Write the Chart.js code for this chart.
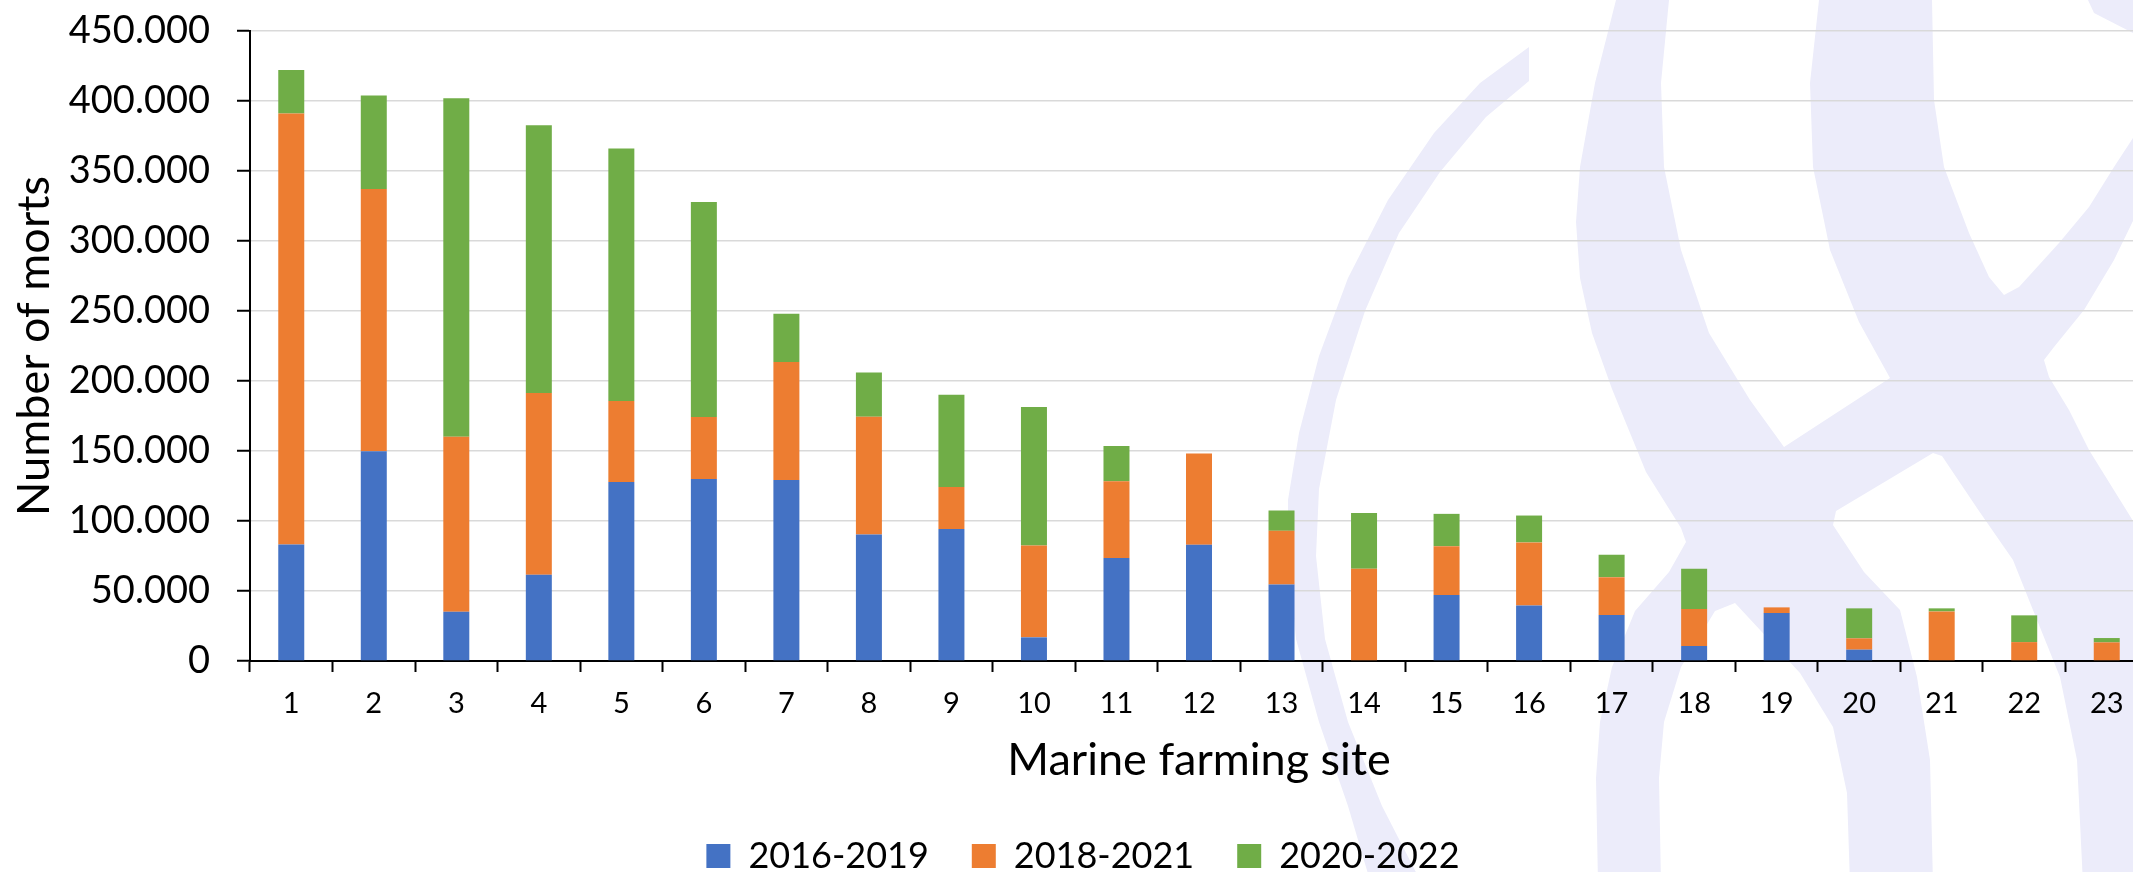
<!DOCTYPE html>
<html>
<head>
<meta charset="utf-8">
<title>Number of morts per marine farming site</title>
<script src="https://cdn.jsdelivr.net/npm/chart.js@4.4.1/dist/chart.umd.min.js"></script>
<style>
  html, body { margin: 0; padding: 0; overflow: hidden; background: #ffffff; }
  canvas { display: block; }
</style>
</head>
<body>
<canvas id="morts" width="2148" height="884"></canvas>
<script>
// Marine farming sites (x categories)
const sites = ['1','2','3','4','5','6','7','8','9','10','11','12','13','14','15','16','17','18','19','20','21','22','23'];

// Number of morts per period, stacked per site
const morts2016_2019 = [83200, 149800, 35200, 61600, 127900, 130000, 129300, 90400, 94200, 16900, 73500, 83000, 54700, 0, 47100, 39700, 32800, 10700, 34200, 8100, 0, 0, 0];
const morts2018_2021 = [307900, 187300, 125000, 129800, 57800, 44300, 84200, 84100, 30100, 65600, 54900, 65300, 38300, 65900, 34900, 45000, 27100, 26400, 4100, 8100, 35400, 13500, 13300];
const morts2020_2022 = [31100, 66800, 241800, 191300, 180400, 153500, 34500, 31600, 65900, 98900, 25200, 0, 14500, 39900, 23100, 19200, 16000, 28800, 0, 21400, 2200, 19100, 3100];

const periodLabels = ['2016-2019', '2018-2021', '2020-2022'];
const periodColors = ['#4472C4', '#ED7D31', '#70AD47'];

// Y axis range and tick spacing
const yMax = 450000;
const yStep = 50000;

// thousands separated with a dot: 450000 -> "450.000"
function formatThousands(v) {
  return String(Math.round(v)).replace(/\B(?=(\d{3})+(?!\d))/g, '.');
}

// Pale logo drawn behind the plot
const LOGO_FILL = '#ECECFA';
const logoShapes = [
  // left crescent
  [[1529,47],[1480,83],[1434,133],[1388,200],[1348,278],[1319,356],[1299,433],[1288,500],[1288,556],[1296,639],[1319,722],[1348,806],[1371,884],
   [1422,884],[1382,806],[1348,722],[1325,639],[1316,556],[1319,489],[1336,400],[1365,311],[1399,233],[1440,172],[1486,117],[1529,81]],
  // crossing loops
  [[1616,0],[1595,83],[1580,167],[1576,222],[1580,278],[1592,333],[1612,389],[1646,472],[1681,528],[1686,542],
   [1669,572],[1635,611],[1612,667],[1600,722],[1596,778],[1598,884],
   [1661,884],[1659,778],[1664,722],[1681,667],[1715,611],[1735,603],
   [1800,673],[1833,727],[1847,793],[1850,884],
   [1933,884],[1930,760],[1917,677],[1900,610],[1864,572],[1833,525],[1836,511],[1933,453],[1942,456],
   [1979,511],[2013,560],[2033,610],[2060,677],[2077,760],[2083,884],
   [2148,884],[2148,545],[2089,450],[2069,410],[2049,377],[2044,360],[2054,347],[2084,310],[2114,260],[2148,190],
   [2148,115],[2114,167],[2089,207],[2059,243],[2019,287],[2004,295],
   [1989,277],[1969,233],[1944,167],[1934,100],[1932,0],
   [1819,0],[1810,83],[1813,167],[1830,250],[1859,322],[1890,378],[1784,447],
   [1750,400],[1709,333],[1681,250],[1664,167],[1661,83],[1669,0]],
  // top right corner
  [[2088,0],[2094,13],[2133,33],[2148,40],[2148,0]]
];

const logoPlugin = {
  id: 'logoBackdrop',
  beforeDraw(chart) {
    const ctx = chart.ctx;
    ctx.save();
    ctx.fillStyle = LOGO_FILL;
    for (const shape of logoShapes) {
      ctx.beginPath();
      shape.forEach(([x, y], i) => (i ? ctx.lineTo(x, y) : ctx.moveTo(x, y)));
      ctx.closePath();
      ctx.fill();
    }
    ctx.restore();
  }
};

const seriesValues = [morts2016_2019, morts2018_2021, morts2020_2022];

function build() {
  new Chart(document.getElementById('morts'), {
    type: 'bar',
    data: {
      labels: sites,
      datasets: seriesValues.map((values, i) => ({
        label: periodLabels[i],
        data: values,
        backgroundColor: periodColors[i],
        borderWidth: 0,
        barPercentage: 0.315,
        categoryPercentage: 1.0
      }))
    },
    options: {
      responsive: false,
      animation: false,
      devicePixelRatio: 1,
      layout: { padding: { top: 31, left: 18, right: 0, bottom: 0 } },
      plugins: {
        legend: {
          position: 'bottom',
          labels: {
            font: { family: 'Lato', size: 36 },
            color: '#000000',
            boxWidth: 24,
            boxHeight: 24,
            padding: 43
          }
        },
        tooltip: { enabled: false }
      },
      scales: {
        x: {
          stacked: true,
          grid: {
            display: true,
            drawOnChartArea: false,
            offset: true,
            tickLength: 11,
            tickColor: '#000000',
            tickWidth: 2
          },
          border: { color: '#000000', width: 2 },
          ticks: {
            font: { family: 'Lato', size: 29 },
            color: '#000000',
            padding: 14,
            maxRotation: 0,
            autoSkip: false
          },
          title: {
            display: true,
            text: 'Marine farming site',
            font: { family: 'Lato', size: 45 },
            color: '#000000',
            padding: { top: 0, bottom: 8 }
          },
          afterFit(scale) { scale.height = 134; }
        },
        y: {
          stacked: true,
          min: 0,
          max: yMax,
          ticks: {
            stepSize: yStep,
            font: { family: 'Lato', size: 38 },
            color: '#000000',
            padding: 27,
            callback: (v) => formatThousands(v)
          },
          grid: {
            color: '#D9D9D9',
            lineWidth: 1.5,
            tickLength: 13,
            tickColor: '#000000',
            tickWidth: 2
          },
          border: { color: '#000000', width: 2 },
          title: {
            display: true,
            text: 'Number of morts',
            font: { family: 'Lato', size: 45 },
            color: '#000000',
            padding: { top: -11, bottom: 0 }
          },
          afterFit(scale) {
            scale.width = 232;
            // the layout padding already leaves room for the end labels
            scale.paddingTop = 0;
            scale.paddingBottom = 0;
          }
        }
      }
    },
    plugins: [logoPlugin]
  });
}

if (document.fonts && document.fonts.load) {
  Promise.all([document.fonts.load('36px Lato'), document.fonts.load('45px Lato')]).then(build, build);
} else {
  build();
}
</script>
</body>
</html>
